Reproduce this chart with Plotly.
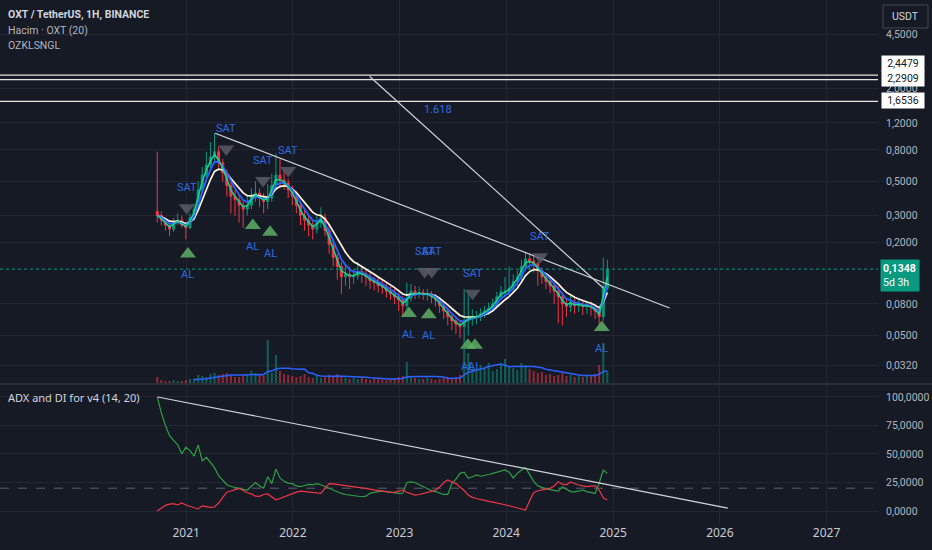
import numpy as np
import pandas as pd
import plotly.graph_objects as go

W, H = 932, 550
MR, MB = 54, 26
PW, PH = W - MR, H - MB

def px(xp):
    return xp / PW

def py(yp):
    return (PH - yp) / PH

BG = "#161a25"
GRID = "#232733"
TXT = "#b2b5be"
UP = "#089981"
DOWN = "#f23645"
FONT = "Roboto, Noto Sans, sans-serif"

# ---- data (bi-weekly sampling) ----
dates = pd.date_range("2020-09-24", periods=111, freq="14D")
first_open = 0.32
closes = [0.30, 0.28, 0.26, 0.245, 0.27, 0.28, 0.26, 0.25, 0.29, 0.33,
          0.44, 0.55, 0.64, 0.72, 0.78, 0.66, 0.57, 0.47, 0.40, 0.38,
          0.35, 0.33, 0.35, 0.40, 0.42, 0.39, 0.37, 0.39, 0.47, 0.55,
          0.51, 0.49, 0.44, 0.40, 0.35, 0.30, 0.28, 0.26, 0.245, 0.27,
          0.29, 0.24, 0.195, 0.16, 0.14, 0.12, 0.125, 0.12, 0.122, 0.13,
          0.125, 0.12, 0.113, 0.11, 0.105, 0.103, 0.097, 0.093, 0.089, 0.085,
          0.078, 0.087, 0.097, 0.093, 0.095, 0.092, 0.093, 0.089, 0.085, 0.078,
          0.072, 0.066, 0.062, 0.059, 0.057, 0.062, 0.065, 0.066, 0.066, 0.069,
          0.072, 0.075, 0.080, 0.089, 0.096, 0.097, 0.101, 0.112, 0.120, 0.140,
          0.157, 0.152, 0.146, 0.132, 0.120, 0.112, 0.105, 0.097, 0.089, 0.080,
          0.077, 0.082, 0.078, 0.080, 0.077, 0.078, 0.076, 0.072, 0.066, 0.101,
          0.1348]
highs = [0.78, 0.32, 0.29, 0.27, 0.29, 0.31, 0.30, 0.27, 0.31, 0.36,
         0.50, 0.62, 0.78, 0.90, 1.03, 0.84, 0.70, 0.60, 0.50, 0.44,
         0.41, 0.38, 0.40, 0.45, 0.50, 0.45, 0.42, 0.48, 0.56, 0.76,
         0.70, 0.60, 0.52, 0.47, 0.43, 0.37, 0.33, 0.30, 0.28, 0.30,
         0.34, 0.31, 0.26, 0.21, 0.17, 0.15, 0.145, 0.14, 0.135, 0.15,
         0.14, 0.135, 0.128, 0.12, 0.118, 0.115, 0.11, 0.104, 0.10, 0.094,
         0.09, 0.11, 0.108, 0.105, 0.104, 0.10, 0.10, 0.097, 0.093, 0.088,
         0.08, 0.075, 0.07, 0.066, 0.063, 0.10, 0.094, 0.074, 0.072, 0.075,
         0.078, 0.082, 0.087, 0.096, 0.105, 0.12, 0.14, 0.125, 0.132, 0.155,
         0.175, 0.170, 0.165, 0.150, 0.138, 0.126, 0.118, 0.110, 0.104, 0.095,
         0.086, 0.090, 0.087, 0.086, 0.085, 0.084, 0.083, 0.080, 0.076, 0.16,
         0.155]
lows = [0.27, 0.26, 0.24, 0.22, 0.235, 0.26, 0.25, 0.21, 0.245, 0.28,
        0.32, 0.42, 0.52, 0.60, 0.66, 0.60, 0.50, 0.40, 0.31, 0.30,
        0.27, 0.25, 0.30, 0.33, 0.37, 0.34, 0.31, 0.33, 0.37, 0.44,
        0.46, 0.44, 0.39, 0.35, 0.31, 0.26, 0.24, 0.22, 0.21, 0.23,
        0.25, 0.22, 0.17, 0.14, 0.115, 0.093, 0.105, 0.10, 0.108, 0.115,
        0.11, 0.105, 0.10, 0.098, 0.095, 0.093, 0.088, 0.085, 0.08, 0.072,
        0.066, 0.074, 0.083, 0.086, 0.087, 0.085, 0.084, 0.081, 0.077, 0.07,
        0.064, 0.058, 0.054, 0.051, 0.048, 0.044, 0.05, 0.058, 0.059, 0.062,
        0.065, 0.068, 0.071, 0.077, 0.085, 0.088, 0.09, 0.096, 0.105, 0.113,
        0.132, 0.135, 0.128, 0.105, 0.108, 0.100, 0.094, 0.080, 0.060, 0.058,
        0.066, 0.071, 0.069, 0.071, 0.068, 0.069, 0.067, 0.064, 0.057, 0.062,
        0.098]
volumes = [6, 3, 2, 2, 3, 2, 2, 3, 4, 5,
           8, 7, 6, 9, 10, 8, 9, 10, 7, 6,
           6, 8, 9, 12, 10, 8, 7, 43, 10, 28,
           12, 9, 8, 7, 6, 7, 9, 6, 5, 8,
           5, 6, 8, 7, 9, 6, 5, 4, 5, 4,
           5, 4, 3, 4, 5, 4, 3, 4, 5, 6,
           7, 21, 6, 5, 4, 4, 5, 4, 3, 4,
           5, 6, 5, 6, 8, 36, 30, 14, 12, 18,
           15, 20, 12, 14, 18, 24, 16, 15, 13, 20,
           18, 14, 12, 10, 11, 8, 9, 7, 8, 10,
           7, 8, 6, 7, 6, 8, 7, 9, 18, 40, 12]
di_plus = [100, 86, 75, 66, 62, 58, 50, 56, 53, 48,
           58, 44, 47, 42, 38, 31, 27, 23, 21.5, 20.5,
           19.8, 19, 18.4, 22, 25, 22, 20, 30, 24, 36.8,
           29, 26, 24.5, 24, 22, 21.3, 22.5, 23.4, 23, 24,
           23, 21.5, 20, 18, 16.5, 15.4, 14.5, 14, 13.4, 13,
           12.5, 13, 15.5, 16.4, 16.8, 17.5, 17, 16.4, 16, 15.4,
           15.6, 25, 25.5, 25, 23, 21.3, 19.5, 18, 17, 15.5,
           14.5, 14.5, 24, 28, 33, 34, 28.7, 30, 31.6, 30.5,
           31, 32, 33, 34, 35, 36, 34, 29, 33, 36,
           38, 31.6, 26, 22, 20.5, 19.5, 18.8, 18, 17.5, 21.3,
           19, 17, 16.8, 17.8, 18.4, 17, 16, 15.4, 24.3, 36, 33]
di_minus = [0, 2.5, 5, 6, 6.5, 5.3, 7, 5.3, 4, 3,
            1.8, 4.5, 4, 3.2, 3.5, 7, 12, 16.5, 17.5, 19,
            19.9, 18, 16, 15, 13, 12.8, 14.5, 15, 12, 9.8,
            11, 12.5, 14, 15.2, 16.5, 17.5, 17, 16.5, 16, 15.6,
            15.4, 20, 24, 23.8, 23.2, 22.8, 22.3, 21.8, 21.3, 20.8,
            20.4, 20, 19.2, 18.5, 17.8, 17.3, 17, 16.6, 16.4, 17.5,
            18.4, 16.4, 15.2, 14, 14.5, 15.6, 16.4, 17.2, 18.2, 21,
            25, 27.2, 25.5, 24, 21, 18, 14, 12, 11, 10,
            9.5, 8.5, 7.8, 7.2, 6.5, 5.5, 4.6, 3.8, 2.8, 1.8,
            0.9, 9, 16, 17.8, 18.4, 19, 19.9, 22, 25.7, 23.5,
            23, 25.5, 24, 22.8, 22, 21.3, 21.8, 22.2, 18.4, 11.6, 9.6]

levels = [2.4479, 2.2909, 1.6536]
level_labels = ["2,4479", "2,2909", "1,6536"]
level_label_shift = [12, 1, 1]
last_price = 0.1348

sell_dates = ["2021-01-03", "2021-05-18", "2021-09-21", "2021-12-16",
              "2023-03-28", "2023-04-21", "2023-09-08", "2024-04-26"]
sell_prices = [0.337, 0.812, 0.507, 0.588, 0.13, 0.13, 0.094, 0.162]
buy_dates = ["2021-01-07", "2021-08-17", "2021-10-15", "2023-02-02",
             "2023-04-11", "2023-08-23", "2023-09-16", "2024-11-23"]
buy_prices = [0.169, 0.259, 0.234, 0.0693, 0.068, 0.0432, 0.0432, 0.0562]

trend1_dates = ["2021-04-10", "2025-07-13"]
trend1_prices = [1.027, 0.0754]
trend2_dates = ["2022-09-21", "2024-11-29"]
trend2_prices = [2.40, 0.1012]
adx_trend_dates = ["2020-09-25", "2026-01-28"]
adx_trend_vals = [100, 2.6]

x_range = ["2019-04-05", "2027-06-26"]
year_ticks = ["2021-01-01", "2022-01-01", "2023-01-01", "2024-01-01",
              "2025-01-01", "2026-01-01", "2027-01-01"]
year_labels = ["2021", "2022", "2023", "2024", "2025", "2026", "2027"]
price_ticks = [0.032, 0.05, 0.08, 0.2, 0.3, 0.5, 0.8, 1.2, 2.0, 4.5]
adx_ticks = [0, 25, 50, 75, 100]

# ---- derived ----
opens = [first_open] + closes[:-1]
cl = pd.Series(closes)
ema_fast = cl.ewm(span=2, adjust=False).mean()
ema_mid = cl.ewm(span=4, adjust=False).mean()
ema_slow = cl.ewm(span=7, adjust=False).mean()
vol_ma = pd.Series(volumes).rolling(10).mean()
vol_colors = ["rgba(8,153,129,0.55)" if c >= o else "rgba(242,54,69,0.55)"
              for o, c in zip(opens, closes)]

fig = go.Figure()

fig.add_trace(go.Bar(x=dates, y=volumes, marker_color=vol_colors, marker_line_width=0,
                     width=14 * 24 * 3600 * 1000 * 0.5, yaxis="y3"))
fig.add_trace(go.Scatter(x=dates, y=vol_ma, mode="lines", line=dict(color="#2962ff", width=1.5),
                         yaxis="y3"))

for lv in levels:
    fig.add_trace(go.Scatter(x=x_range, y=[lv, lv], mode="lines",
                             line=dict(color="#e6e6e6", width=1.3)))
fig.add_trace(go.Scatter(x=x_range, y=[last_price, last_price], mode="lines",
                         line=dict(color=UP, width=1, dash="dot")))

fig.add_trace(go.Candlestick(x=dates, open=opens, high=highs, low=lows, close=closes,
                             increasing=dict(line=dict(color=UP, width=1), fillcolor=UP),
                             decreasing=dict(line=dict(color=DOWN, width=1), fillcolor=DOWN),
                             whiskerwidth=0))
fig.add_trace(go.Scatter(x=dates, y=ema_slow, mode="lines", line=dict(color="#fff3e0", width=1.7)))
fig.add_trace(go.Scatter(x=dates, y=ema_mid, mode="lines", line=dict(color="#2962ff", width=1.8)))
fig.add_trace(go.Scatter(x=dates, y=ema_fast, mode="lines", line=dict(color="#1fcf8a", width=1.5)))

fig.add_trace(go.Scatter(x=trend1_dates, y=trend1_prices, mode="lines",
                         line=dict(color="#d1d4dc", width=1.2)))
fig.add_trace(go.Scatter(x=trend2_dates, y=trend2_prices, mode="lines",
                         line=dict(color="#d1d4dc", width=1.2)))

fig.add_trace(go.Scatter(x=sell_dates, y=sell_prices, mode="markers",
                         marker=dict(symbol="triangle-down", size=14, color="rgba(88,91,102,0.85)")))
fig.add_trace(go.Scatter(x=buy_dates, y=buy_prices, mode="markers",
                         marker=dict(symbol="triangle-up", size=14, color="rgba(92,175,100,0.85)")))

# ADX pane
fig.add_trace(go.Scatter(x=x_range, y=[20, 20], mode="lines",
                         line=dict(color="#5d606b", width=1, dash="dash"), yaxis="y2"))
fig.add_trace(go.Scatter(x=dates, y=di_plus, mode="lines", line=dict(color="#2ea043", width=1.2),
                         yaxis="y2"))
fig.add_trace(go.Scatter(x=dates, y=di_minus, mode="lines", line=dict(color="#f23645", width=1.2),
                         yaxis="y2"))
fig.add_trace(go.Scatter(x=adx_trend_dates, y=adx_trend_vals, mode="lines",
                         line=dict(color="#d1d4dc", width=1.2), yaxis="y2"))

ann = []
for d, p in zip(sell_dates, sell_prices):
    ann.append(dict(x=d, y=np.log10(p), xref="x", yref="y", text="SAT", showarrow=False,
                    yshift=20, font=dict(family=FONT, color="#2f6ae0", size=11)))
for d, p in zip(buy_dates, buy_prices):
    ann.append(dict(x=d, y=np.log10(p), xref="x", yref="y", text="AL", showarrow=False,
                    yshift=-21, font=dict(family=FONT, color="#2f6ae0", size=11)))
for lv, lab, sh in zip(levels, level_labels, level_label_shift):
    ann.append(dict(x=1, y=np.log10(lv), xref="paper", yref="y", text=lab, showarrow=False,
                    xanchor="left", yanchor="middle", xshift=3, yshift=sh, bgcolor="#ffffff",
                    borderpad=1, width=40, align="center",
                    font=dict(family=FONT, color="#131722", size=10.5)))
ann.append(dict(x=1, y=np.log10(last_price), xref="paper", yref="y",
                text="<b>0,1348</b><br>5d 3h", showarrow=False, align="left",
                xanchor="left", yanchor="middle", xshift=2, yshift=-6, bgcolor=UP, borderpad=2,
                width=34, font=dict(family=FONT, color="#ffffff", size=10.5)))
ann.append(dict(x="2023-05-12", y=np.log10(1.46), xref="x", yref="y", text="1.618",
                showarrow=False, font=dict(family=FONT, color="#2f6ae0", size=11)))
ann.append(dict(x=px(6), y=py(15), xref="paper", yref="paper", xanchor="left", yanchor="middle",
                text="<b>OXT / TetherUS, 1H, BINANCE</b>", showarrow=False,
                font=dict(family=FONT, color="#d1d4dc", size=10.5)))
ann.append(dict(x=px(6), y=py(30), xref="paper", yref="paper", xanchor="left", yanchor="middle",
                text="Hacim · OXT (20)", showarrow=False,
                font=dict(family=FONT, color=TXT, size=10.5)))
ann.append(dict(x=px(6), y=py(45), xref="paper", yref="paper", xanchor="left", yanchor="middle",
                text="OZKLSNGL", showarrow=False, font=dict(family=FONT, color=TXT, size=10.5)))
ann.append(dict(x=px(6), y=py(397), xref="paper", yref="paper", xanchor="left", yanchor="middle",
                text="ADX and DI for v4 (14, 20)", showarrow=False,
                font=dict(color="#d1d4dc", size=11)))
ann.append(dict(x=px(905.5), y=py(16), xref="paper", yref="paper", text="USDT",
                xanchor="center", yanchor="middle",
                showarrow=False, font=dict(family=FONT, color="#d1d4dc", size=10.5)))

shapes = [
    dict(type="line", xref="paper", yref="paper", x0=0, x1=W / PW, y0=py(384), y1=py(384),
         line=dict(color="#2a2e39", width=2)),
    dict(type="rect", xref="paper", yref="paper", x0=px(883), x1=px(928), y0=py(28), y1=py(5),
         line=dict(color="#434651", width=1)),
]

fig.update_layout(
    width=W, height=H,
    margin=dict(l=0, r=MR, t=0, b=MB),
    paper_bgcolor=BG, plot_bgcolor=BG,
    showlegend=False,
    separators=",.",
    font=dict(family="Noto Sans, Roboto, sans-serif", color=TXT),
    annotations=ann,
    shapes=shapes,
    xaxis=dict(type="date", range=x_range, anchor="y2", tickvals=year_ticks, ticktext=year_labels,
               showgrid=True, gridcolor=GRID, zeroline=False,
               rangeslider=dict(visible=False), showline=False, ticks="",
               tickfont=dict(size=12, color="#c8cbd3")),
    yaxis=dict(type="log", domain=[py(383), 1], range=[-1.610, 0.877], side="right",
               tickvals=price_ticks, tickformat=".4f", showgrid=True, gridcolor=GRID,
               zeroline=False, ticks="", ticklabelstandoff=7,
               tickfont=dict(family="Roboto", size=10.5, color=TXT)),
    yaxis2=dict(domain=[0, py(385)], range=[-11.4, 110.5], side="right",
                tickvals=adx_ticks, tickformat=".4f", showgrid=True,
                gridcolor=GRID, zeroline=False, ticks="", ticklabelstandoff=7,
                tickfont=dict(family="Roboto", size=10.5, color=TXT)),
    yaxis3=dict(overlaying="y", range=[0, 383], visible=False, showgrid=False),
)

fig.write_html("out.html", config=dict(displayModeBar=False),
               post_script="document.body.style.margin='0';")
